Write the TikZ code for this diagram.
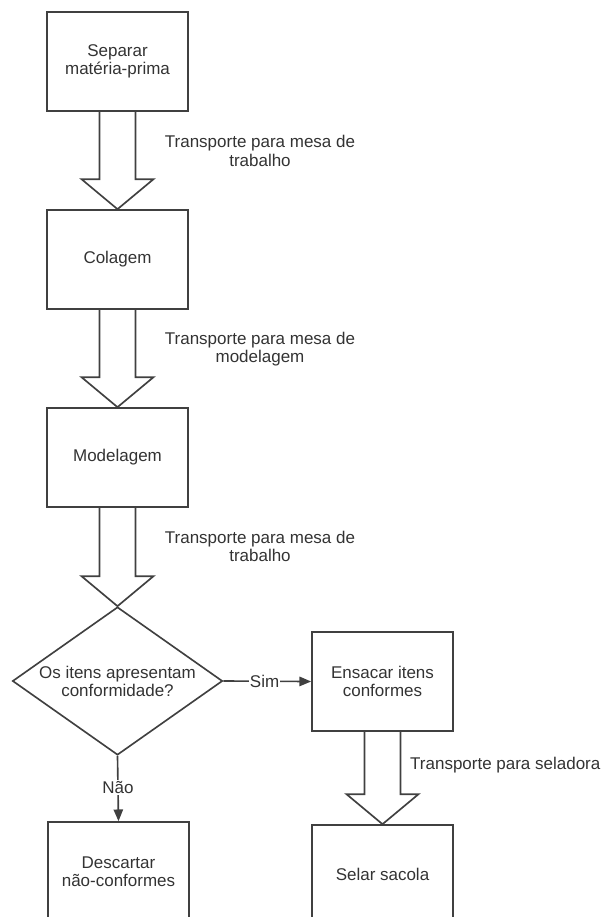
\documentclass[tikz,border=0pt]{standalone}
\usepackage{fontspec}
\setmainfont{Liberation Sans}
\usetikzlibrary{arrows.meta, positioning, calc, shapes.geometric}

\begin{document}
\begin{tikzpicture}[x=0.03cm, y=-0.03cm,
    every node/.style={font=\fontsize{14.5}{15.5}\selectfont, text=black!80},
    box/.style={draw=black!75, line width=1.4pt, minimum width=4.23cm, minimum height=2.97cm, align=center, inner sep=2pt},
    decision/.style={draw=black!75, line width=1.4pt, diamond, aspect=1.42, inner sep=0pt, minimum width=6.3cm, minimum height=4.44cm, align=center},
    hollow/.style={draw=black!75, line width=1.4pt, line join=miter},
    link/.style={draw=black!75, line width=1.4pt, -{Triangle[length=10pt, width=8pt]}},
    tag/.style={fill=white, inner sep=1pt}]
  % Frame
  \path[use as bounding box, clip] (0,0) rectangle (606,917);
  % Process boxes
  \node[box] (sep) at (117.5,61.5) {Separar\\matéria-prima};
  \node[box] (col) at (117.5,259.5) {Colagem};
  \node[box] (mod) at (117.5,457.5) {Modelagem};
  \node[decision] (conf) at (117.5,681) {Os itens apresentam\\conformidade?};
  \node[box] (ens) at (382.5,681.5) {Ensacar itens\\conformes};
  \node[box] (desc) at (118.5,871.5) {Descartar\\não-conformes};
  \node[box] (sel) at (382.5,874.5) {Selar sacola};
  % Transport arrows (hollow)
  \foreach \a/\b in {sep/col, col/mod, mod/conf, ens/sel}
    {\draw[hollow] ($(\a.south)+(-18,0)$) -- ($(\b.north)+(-18,-30)$) -- ++(-18,0) -- (\b.north)
      -- ($(\b.north)+(36,-30)$) -- ++(-18,0) -- ($(\a.south)+(18,0)$);}
  % Transport labels
  \node[align=center] (t1) at (260,151) {Transporte para mesa de\\trabalho};
  \node[align=center] (t2) at (260,349) {Transporte para mesa de\\modelagem};
  \node[align=center] (t3) at (260,546) {Transporte para mesa de\\trabalho};
  \node[right, inner sep=0pt] (t4) at (410,765) {Transporte para seladora};
  % Decision outcomes
  \draw[link] (conf.east) -- node[tag, pos=0.47] {Sim} (ens.west);
  \draw[link] (conf.south) -- node[tag, pos=0.48] {Não} (desc.north);
\end{tikzpicture}
\end{document}
